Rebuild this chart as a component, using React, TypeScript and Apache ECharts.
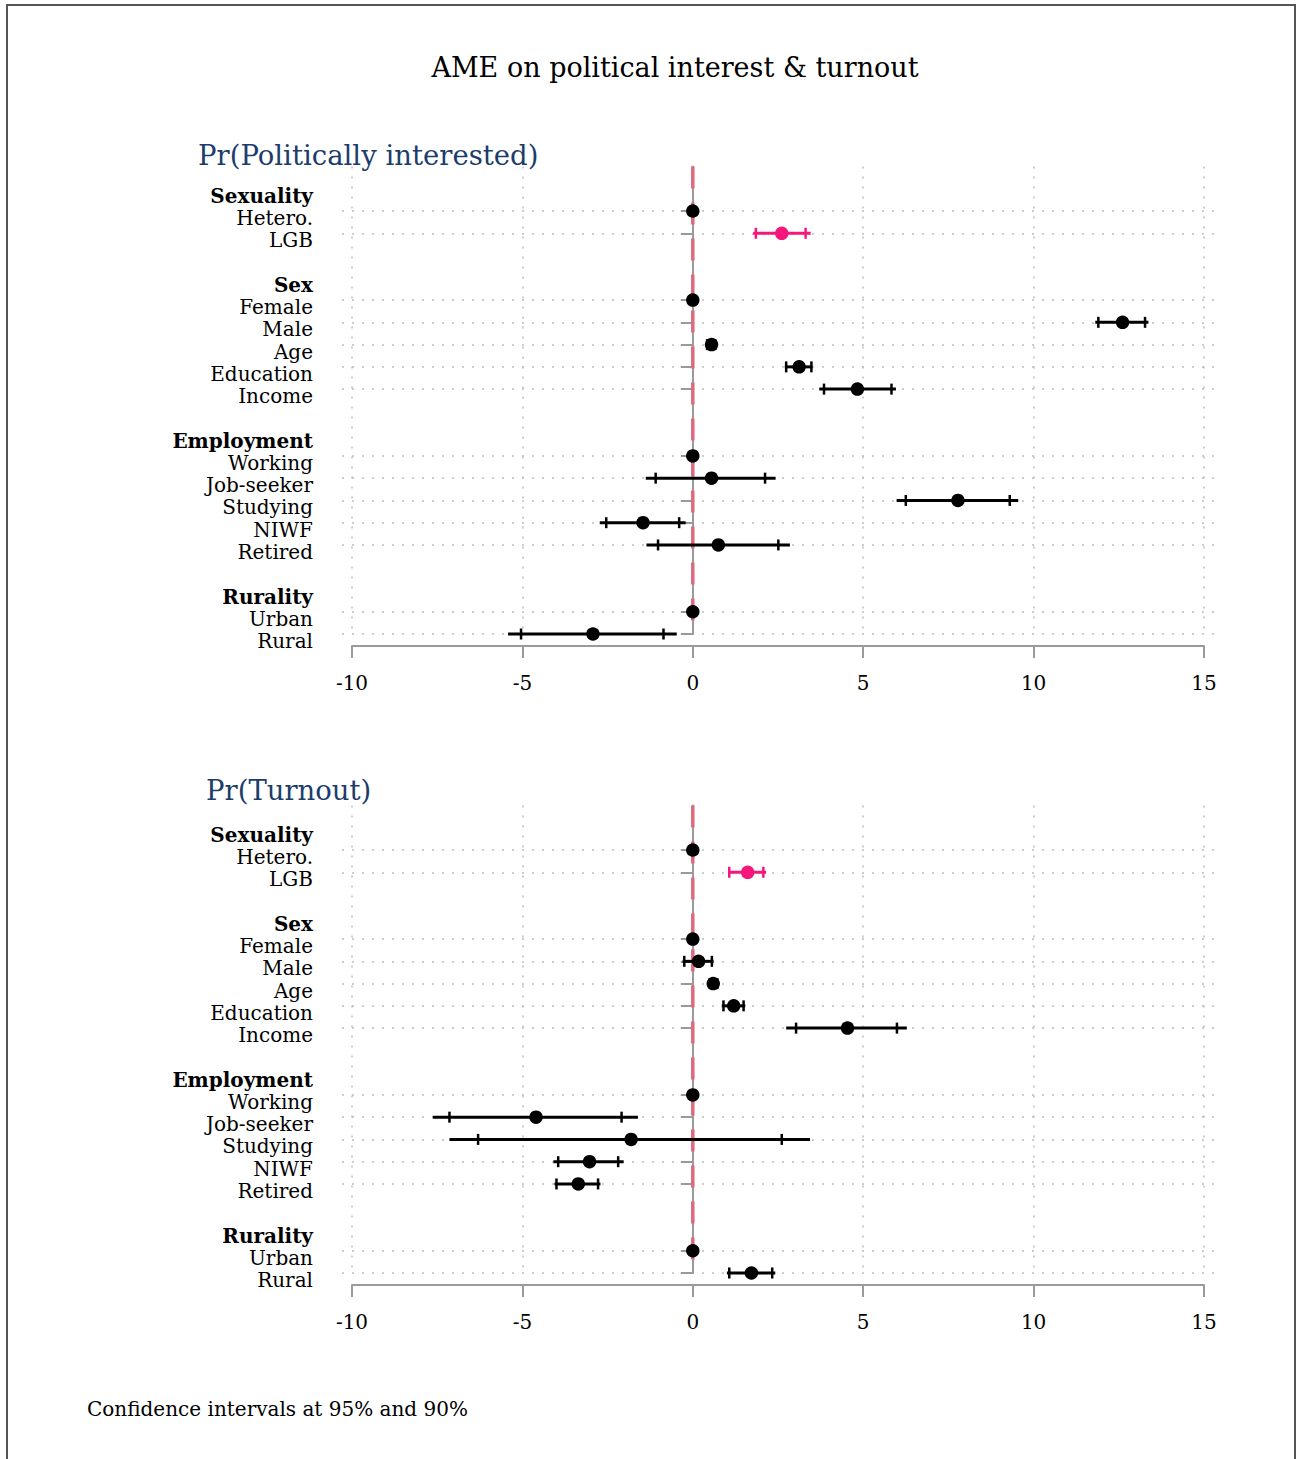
import React, { useEffect, useRef } from "react";
import * as echarts from "echarts";

// ---------- data ----------
const ROWS = ["Hetero.", "LGB", "Female", "Male", "Age", "Education", "Income", "Working", "Job-seeker", "Studying", "NIWF", "Retired", "Urban", "Rural"];
const HEADERS: Record<string, string> = { "Hetero.": "Sexuality", Female: "Sex", Working: "Employment", Urban: "Rurality" };
// axis slots (gap slots start with "_")
const SLOTS = ["_a", "_b", "Hetero.", "LGB", "_c", "_d", "Female", "Male", "Age", "Education", "Income", "_e", "_f", "Working", "Job-seeker", "Studying", "NIWF", "Retired", "_g", "_h", "Urban", "Rural"];
const HIGHLIGHT = "LGB";
const REF_VALUE = 0;
const X_MIN = -10;
const X_MAX = 15;
const X_STEP = 5;

// Pr(Politically interested)
const interestEst = [0, 2.61, 0, 12.61, 0.55, 3.12, 4.83, 0, 0.55, 7.78, -1.46, 0.75, 0, -2.93];
const interestLo95 = [null, 1.77, null, 11.81, 0.4, 2.7, 3.71, null, -1.38, 5.98, -2.73, -1.36, null, -5.42];
const interestHi95 = [null, 3.46, null, 13.37, 0.68, 3.51, 5.96, null, 2.43, 9.55, -0.21, 2.85, null, -0.47];
const interestLo90 = [null, 1.85, null, 11.9, 0.42, 2.74, 3.85, null, -1.09, 6.25, -2.54, -1.02, null, -5.04];
const interestHi90 = [null, 3.31, null, 13.27, 0.66, 3.48, 5.83, null, 2.12, 9.3, -0.4, 2.51, null, -0.86];

// Pr(Turnout)
const turnoutEst = [0, 1.61, 0, 0.17, 0.6, 1.2, 4.54, 0, -4.6, -1.81, -3.03, -3.36, 0, 1.72];
const turnoutLo95 = [null, 1.03, null, -0.3, 0.48, 0.85, 2.74, null, -7.63, -7.14, -4.09, -4.06, null, 1.0];
const turnoutHi95 = [null, 2.15, null, 0.61, 0.74, 1.54, 6.28, null, -1.61, 3.44, -2.03, -2.71, null, 2.42];
const turnoutLo90 = [null, 1.07, null, -0.25, 0.5, 0.9, 3.03, null, -7.14, -6.3, -3.95, -4.0, null, 1.07];
const turnoutHi90 = [null, 2.07, null, 0.56, 0.72, 1.49, 5.99, null, -2.09, 2.61, -2.19, -2.78, null, 2.33];

const TITLE = "AME on political interest & turnout";
const PANEL_TITLES = ["Pr(Politically interested)", "Pr(Turnout)"];
const NOTE = "Confidence intervals at 95% and 90%";

// ---------- styles ----------
const FONT = "'DejaVu Serif', serif";
const PINK = "#f5177b";
const GRID_GRAY = "#bdbdbd";
const AXIS_GRAY = "#9a9a9a";
const NAVY = "#1c3d6c";
const REF_RED = "#dc6b7e";

const isItem = (_i: number, v: string) => !String(v).startsWith("_");
const isHeaderRow = (_i: number, v: string) => HEADERS[v] != null;

function buildPanel(p: number, top: number, est: number[], lo95: any[], hi95: any[], lo90: any[], hi90: any[]) {
  const height = 467.5;
  const bg = p * 2;
  const main = p * 2 + 1;
  const grids = [
    { left: 342, right: 76, top, height },
    { left: 352, right: 92, top, height },
  ];
  const xAxes = [
    { gridIndex: bg, type: "value", min: X_MIN, max: X_MAX, show: false },
    {
      gridIndex: main,
      type: "value",
      min: X_MIN,
      max: X_MAX,
      interval: X_STEP,
      offset: 12,
      axisLine: { show: true, lineStyle: { color: AXIS_GRAY, width: 2 } },
      axisTick: { show: true, length: 12, lineStyle: { color: AXIS_GRAY, width: 2 } },
      axisLabel: { margin: 27, fontSize: 20, fontFamily: FONT, color: "#000" },
      splitLine: { show: true, lineStyle: { color: GRID_GRAY, width: 1.5, type: [2, 8] } },
    },
  ];
  const yAxes = [
    {
      // background axis: horizontal dotted lines + bold group headers
      gridIndex: bg,
      type: "category",
      data: SLOTS,
      inverse: true,
      boundaryGap: false,
      offset: 9,
      axisLine: { show: false },
      axisTick: { show: false },
      axisLabel: {
        show: true,
        interval: isHeaderRow,
        margin: 20,
        fontSize: 20,
        fontFamily: FONT,
        fontWeight: "bold",
        color: "#000",
        verticalAlign: "bottom",
        lineHeight: 30,
        formatter: (v: string) => HEADERS[v] || "",
      },
      splitLine: { show: true, interval: isItem, lineStyle: { color: GRID_GRAY, width: 1.5, type: [2, 8] } },
    },
    {
      gridIndex: main,
      type: "category",
      data: SLOTS,
      inverse: true,
      boundaryGap: false,
      offset: 19,
      axisLine: { show: true, lineStyle: { color: AXIS_GRAY, width: 2 } },
      axisTick: { show: true, interval: isItem, length: 12, lineStyle: { color: AXIS_GRAY, width: 2 } },
      axisLabel: {
        show: true,
        interval: isItem,
        margin: 20,
        fontSize: 20,
        fontFamily: FONT,
        color: "#000",
        verticalAlign: "top",
        lineHeight: 14,
        formatter: (v: string) => (String(v).startsWith("_") ? "" : v),
      },
      splitLine: { show: false },
    },
  ];

  const ciData = ROWS.map((r, i) =>
    lo95[i] == null
      ? null
      : { value: [r, lo95[i], hi95[i], lo90[i], hi90[i]], itemStyle: { color: r === HIGHLIGHT ? PINK : "#000" } }
  ).filter(Boolean);

  const series = [
    {
      type: "line",
      xAxisIndex: main,
      yAxisIndex: main,
      z: 1,
      silent: true,
      symbol: "none",
      lineStyle: { color: REF_RED, width: 3.5, type: [22, 14] },
      data: [
        [REF_VALUE, SLOTS[0]],
        [REF_VALUE, SLOTS[SLOTS.length - 1]],
      ],
    },
    {
      type: "custom",
      xAxisIndex: main,
      yAxisIndex: main,
      z: 3,
      dimensions: ["row", "lo95", "hi95", "lo90", "hi90"],
      encode: { y: "row", x: ["lo95", "hi95", "lo90", "hi90"] },
      data: ciData,
      renderItem: (_params: any, api: any) => {
        const row = api.value(0);
        const a = api.coord([api.value(1), row]);
        const b = api.coord([api.value(2), row]);
        const c = api.coord([api.value(3), row]);
        const d = api.coord([api.value(4), row]);
        const color = api.visual("color");
        const h = 5.5;
        return {
          type: "group",
          children: [
            { type: "line", shape: { x1: a[0], y1: a[1], x2: b[0], y2: b[1] }, style: { stroke: color, lineWidth: 3 } },
            { type: "line", shape: { x1: c[0], y1: c[1] - h, x2: c[0], y2: c[1] + h }, style: { stroke: color, lineWidth: 2.5 } },
            { type: "line", shape: { x1: d[0], y1: d[1] - h, x2: d[0], y2: d[1] + h }, style: { stroke: color, lineWidth: 2.5 } },
          ],
        };
      },
    },
    {
      type: "scatter",
      xAxisIndex: main,
      yAxisIndex: main,
      z: 4,
      symbol: "circle",
      symbolSize: 13.5,
      itemStyle: { opacity: 1 },
      data: ROWS.map((r, i) => ({ value: [est[i], r], itemStyle: { color: r === HIGHLIGHT ? PINK : "#000", opacity: 1 } })),
    },
  ];
  return { grids, xAxes, yAxes, series };
}

export default function App() {
  const ref = useRef<HTMLDivElement>(null);
  useEffect(() => {
    if (!ref.current) return;
    const chart = echarts.init(ref.current, undefined, { renderer: "svg" });
    const p1 = buildPanel(0, 166.5, interestEst, interestLo95, interestHi95, interestLo90, interestHi90);
    const p2 = buildPanel(1, 805.5, turnoutEst, turnoutLo95, turnoutHi95, turnoutLo90, turnoutHi90);
    const txt = (text: string, x: number, y: number, size: number, color: string, align: string) => ({
      type: "text",
      x,
      y,
      silent: true,
      style: {
        text,
        fill: color,
        fontSize: size,
        fontFamily: FONT,
        align,
        textAlign: align,
        verticalAlign: "middle",
        textVerticalAlign: "middle",
      },
    });
    chart.setOption({
      animation: false,
      backgroundColor: "#fff",
      grid: [...p1.grids, ...p2.grids],
      xAxis: [...p1.xAxes, ...p2.xAxes],
      yAxis: [...p1.yAxes, ...p2.yAxes],
      series: [...p1.series, ...p2.series],
      graphic: [
        { type: "rect", silent: true, shape: { x: 7, y: 5, width: 1288, height: 1470 }, style: { fill: "none", stroke: "#555", lineWidth: 2 } },
        txt(TITLE, 675, 67, 27, "#000", "center"),
        txt(PANEL_TITLES[0], 198, 155, 27.5, NAVY, "left"),
        txt(PANEL_TITLES[1], 206, 790, 27.5, NAVY, "left"),
        txt(NOTE, 87, 1409, 20, "#000", "left"),
      ],
    });
    return () => chart.dispose();
  }, []);
  return <div ref={ref} style={{ position: "absolute", left: 0, top: 0, width: 1296, height: 1459 }} />;
}
